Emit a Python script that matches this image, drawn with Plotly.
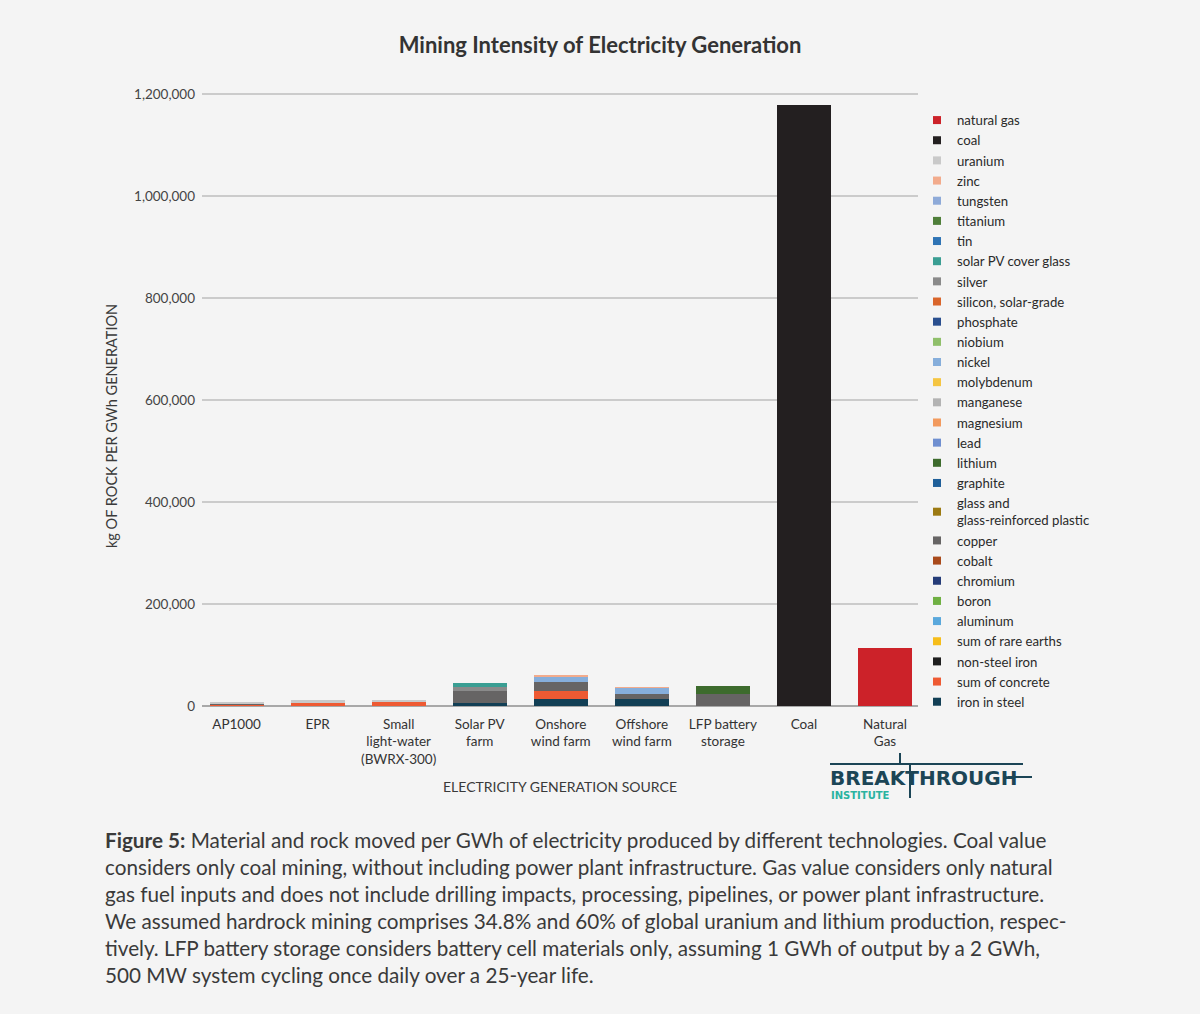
import plotly.graph_objects as go

# ---------------- data ----------------
categories = ["AP1000", "EPR", "Small<br>light-water<br>(BWRX-300)", "Solar PV<br>farm",
              "Onshore<br>wind farm", "Offshore<br>wind farm", "LFP battery<br>storage",
              "Coal", "Natural<br>Gas"]

# kg of rock per GWh generation, one list per material (category order as above)
natural_gas          = [0, 0, 0, 0, 0, 0, 0, 0, 114000]
coal                 = [0, 0, 0, 0, 0, 0, 0, 1178000, 0]
uranium              = [2700, 3800, 3000, 0, 0, 0, 0, 0, 0]
zinc                 = [0, 0, 0, 0, 1000, 1000, 0, 0, 0]
tungsten             = [0, 0, 0, 0, 0, 0, 0, 0, 0]
titanium             = [0, 0, 0, 0, 0, 0, 0, 0, 0]
tin                  = [0, 0, 0, 0, 0, 0, 0, 0, 0]
solar_pv_cover_glass = [0, 0, 0, 8000, 0, 0, 0, 0, 0]
silver               = [0, 0, 0, 6500, 0, 0, 0, 0, 0]
silicon_solar_grade  = [0, 0, 0, 0, 0, 0, 0, 0, 0]
phosphate            = [0, 0, 0, 0, 0, 0, 0, 0, 0]
niobium              = [0, 0, 0, 0, 0, 0, 0, 0, 0]
nickel               = [0, 0, 0, 0, 10000, 11000, 0, 0, 0]
molybdenum           = [0, 0, 0, 0, 0, 0, 0, 0, 0]
manganese            = [0, 0, 0, 0, 0, 0, 0, 0, 0]
magnesium            = [0, 0, 0, 0, 0, 0, 0, 0, 0]
lead                 = [0, 0, 0, 0, 0, 0, 0, 0, 0]
lithium              = [0, 0, 0, 0, 0, 0, 14000, 0, 0]
graphite             = [0, 0, 0, 0, 0, 0, 0, 0, 0]
glass_grp            = [0, 0, 0, 0, 0, 0, 0, 0, 0]
copper               = [2500, 1000, 500, 25000, 18000, 10500, 24500, 0, 0]
cobalt               = [0, 0, 0, 0, 0, 0, 0, 0, 0]
chromium             = [0, 0, 0, 0, 0, 0, 0, 0, 0]
boron                = [0, 0, 0, 0, 0, 0, 0, 0, 0]
aluminum             = [0, 0, 0, 0, 0, 0, 0, 0, 0]
sum_of_rare_earths   = [0, 0, 0, 0, 0, 0, 0, 0, 0]
non_steel_iron       = [0, 0, 0, 0, 0, 0, 0, 0, 0]
sum_of_concrete      = [2000, 5500, 7500, 0, 17000, 0, 0, 0, 0]
iron_in_steel        = [800, 700, 800, 5000, 13000, 14000, 0, 0, 0]

# legend order (top -> bottom); stacking is the reverse
material_names = ["natural gas", "coal", "uranium", "zinc", "tungsten", "titanium", "tin",
                  "solar PV cover glass", "silver", "silicon, solar-grade", "phosphate",
                  "niobium", "nickel", "molybdenum", "manganese", "magnesium", "lead",
                  "lithium", "graphite", "glass and<br>glass-reinforced plastic", "copper",
                  "cobalt", "chromium", "boron", "aluminum", "sum of rare earths",
                  "non-steel iron", "sum of concrete", "iron in steel"]
material_values = [natural_gas, coal, uranium, zinc, tungsten, titanium, tin,
                   solar_pv_cover_glass, silver, silicon_solar_grade, phosphate,
                   niobium, nickel, molybdenum, manganese, magnesium, lead,
                   lithium, graphite, glass_grp, copper, cobalt, chromium, boron,
                   aluminum, sum_of_rare_earths, non_steel_iron, sum_of_concrete,
                   iron_in_steel]
material_colors = ["#cc2229", "#231f20", "#c9c9c9", "#f2ab8c", "#8eaad8", "#4f7f3a",
                   "#2f74b5", "#3a9e93", "#8a8a8a", "#d9652b", "#2a4f8f", "#8fbf6a",
                   "#86aedb", "#f5c542", "#b3b3b3", "#f29a5e", "#6f8fd0", "#3d6b2d",
                   "#1f5f99", "#9c7a12", "#666464", "#a94a1b", "#253c78", "#6fb043",
                   "#5aa8dc", "#f6bd1a", "#1e1e1e", "#ee5a33", "#123f55"]

# ---------------- layout geometry (pixels) ----------------
W, H = 1200, 1014
PL, PR, PT, PB = 202, 918, 84, 706   # plot area

def px_x(x):
    return (x - PL) / (PR - PL)

def px_y(y):
    return (PB - y) / (PB - PT)

FONT = "Lato"
TXT = "#3a3a3a"
BG = "#f4f4f4"

fig = go.Figure()

# stacked bars: bottom first
for name, vals, col in reversed(list(zip(material_names, material_values, material_colors))):
    fig.add_trace(go.Bar(x=categories, y=vals, name=name, marker_color=col,
                         marker_line_width=0, showlegend=False, legendgroup=name))

# legend entries (small square swatches)
for name, col in zip(material_names, material_colors):
    fig.add_trace(go.Scatter(x=[None], y=[None], mode="markers", name=name,
                             legendgroup=name,
                             marker=dict(symbol="square", size=8, color=col)))

fig.update_layout(
    width=W, height=H,
    margin=dict(l=PL, r=W - PR, t=PT, b=H - PB, autoexpand=False),
    paper_bgcolor=BG, plot_bgcolor=BG,
    barmode="stack", bargap=0.334,
    font=dict(family=FONT, color=TXT, size=13),
    title=dict(text="<b>Mining Intensity of Electricity Generation</b>",
               x=0.5, xanchor="center", y=1 - 45 / H, yanchor="middle",
               font=dict(family=FONT, size=22, color="#333333")),
    showlegend=True,
    legend=dict(xref="container", yref="container", x=917 / W, y=1 - 105 / H,
                xanchor="left", yanchor="top", traceorder="normal", maxheight=900,
                bgcolor="rgba(0,0,0,0)", font=dict(family=FONT, size=13.2, color="#2a2a2a"),
                tracegroupgap=0, itemclick=False),
)

fig.update_xaxes(type="category", range=[-0.426, 8.407], showgrid=False,
                 showline=False, ticks="", ticklabelstandoff=8,
                 tickfont=dict(family=FONT, size=13.5, color="#333333"))
fig.update_yaxes(range=[0, 1220000], dtick=200000, tickformat=",",
                 showgrid=True, gridcolor="#cbcbcb", gridwidth=1.5,
                 zeroline=True, zerolinecolor="#a8a8a8", zerolinewidth=1.5,
                 ticks="", ticklabelstandoff=6,
                 tickfont=dict(family=FONT, size=13.5, color="#444444"))

# axis titles
fig.add_annotation(text="kg OF ROCK PER GWh GENERATION", textangle=-90,
                   xref="paper", yref="paper", x=px_x(111), y=px_y(426),
                   xanchor="center", yanchor="middle",
                   showarrow=False, font=dict(family=FONT, size=14.5, color="#3a3a3a"))
fig.add_annotation(text="ELECTRICITY GENERATION SOURCE",
                   xref="paper", yref="paper", x=px_x(560), y=px_y(786),
                   xanchor="center", yanchor="middle",
                   showarrow=False, font=dict(family=FONT, size=14, color="#3a3a3a"))

# caption
caption = ("<b>Figure 5:</b> Material and rock moved per GWh of electricity produced by different technologies. Coal value<br>"
           "considers only coal mining, without including power plant infrastructure. Gas value considers only natural<br>"
           "gas fuel inputs and does not include drilling impacts, processing, pipelines, or power plant infrastructure.<br>"
           "We assumed hardrock mining comprises 34.8% and 60% of global uranium and lithium production, respec-<br>"
           "tively. LFP battery storage considers battery cell materials only, assuming 1 GWh of output by a 2 GWh,<br>"
           "500 MW system cycling once daily over a 25-year life.")
fig.add_annotation(text=caption, xref="paper", yref="paper", x=px_x(103), y=px_y(826),
                   xanchor="left", yanchor="top", align="left", showarrow=False,
                   font=dict(family=FONT, size=20.7, color="#3a3a3a"))

# logo
LOGO = "#1b4556"
fig.add_annotation(text="<b>BREAKTHROUGH</b>", xref="paper", yref="paper",
                   x=px_x(828), y=px_y(778), xanchor="left", yanchor="middle",
                   showarrow=False, font=dict(family="DejaVu Sans", size=20, color=LOGO))
fig.add_annotation(text="<b>INSTITUTE</b>", xref="paper", yref="paper",
                   x=px_x(829), y=px_y(795), xanchor="left", yanchor="middle",
                   showarrow=False, font=dict(family="DejaVu Sans", size=10, color="#2ab3a0"))
for (x0, y0, x1, y1) in [(830, 764, 1023, 764), (900, 753, 900, 764),
                         (910, 764, 910, 798), (1008, 777, 1032, 777)]:
    fig.add_shape(type="line", xref="paper", yref="paper",
                  x0=px_x(x0), y0=px_y(y0), x1=px_x(x1), y1=px_y(y1),
                  line=dict(color=LOGO, width=2))

fig.write_html("out.html", config={"displayModeBar": False},
               post_script="document.body.style.margin='0px';document.body.style.background='#f4f4f4';")
